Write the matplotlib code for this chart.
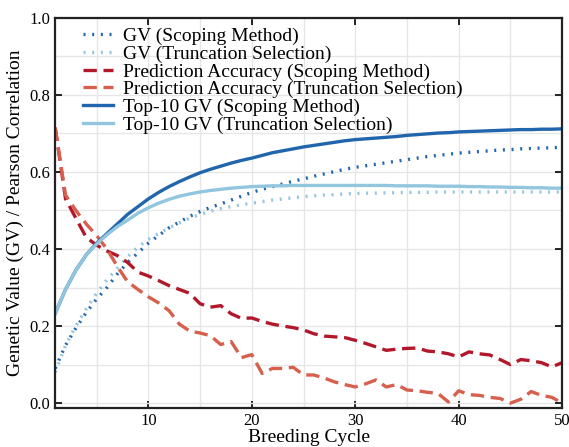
import matplotlib
matplotlib.use("Agg")
import matplotlib.pyplot as plt
from matplotlib.ticker import MultipleLocator

plt.rcParams['font.family'] = ['Liberation Serif', 'DejaVu Serif']

cycles = list(range(1, 51))

gv_scoping = [0.09, 0.15, 0.195, 0.235, 0.27, 0.30, 0.335, 0.365, 0.39, 0.415,
              0.435, 0.455, 0.47, 0.485, 0.497, 0.508, 0.517, 0.527, 0.537, 0.547,
              0.555, 0.562, 0.569, 0.576, 0.582, 0.589, 0.595, 0.601, 0.607, 0.612,
              0.616, 0.620, 0.624, 0.628, 0.632, 0.636, 0.640, 0.643, 0.646, 0.649,
              0.651, 0.653, 0.655, 0.657, 0.658, 0.660, 0.661, 0.662, 0.663, 0.664]

gv_trunc = [0.08, 0.15, 0.20, 0.245, 0.285, 0.32, 0.35, 0.38, 0.405, 0.425,
            0.44, 0.455, 0.468, 0.48, 0.49, 0.498, 0.505, 0.51, 0.515, 0.519,
            0.523, 0.527, 0.530, 0.533, 0.536, 0.538, 0.540, 0.541, 0.543, 0.544,
            0.545, 0.545, 0.546, 0.546, 0.547, 0.547, 0.547, 0.548, 0.548, 0.548,
            0.548, 0.548, 0.548, 0.548, 0.548, 0.548, 0.548, 0.548, 0.548, 0.548]

acc_scoping = [0.715, 0.53, 0.48, 0.43, 0.41, 0.395, 0.383, 0.365, 0.34, 0.33,
               0.318, 0.305, 0.295, 0.285, 0.258, 0.249, 0.253, 0.232, 0.22, 0.221,
               0.212, 0.205, 0.20, 0.196, 0.19, 0.18, 0.174, 0.172, 0.17, 0.163,
               0.155, 0.146, 0.137, 0.14, 0.142, 0.143, 0.135, 0.133, 0.128, 0.12,
               0.133, 0.128, 0.125, 0.113, 0.10, 0.113, 0.11, 0.105, 0.094, 0.105]

acc_trunc = [0.715, 0.54, 0.50, 0.465, 0.435, 0.40, 0.355, 0.315, 0.295, 0.276,
             0.26, 0.24, 0.205, 0.187, 0.182, 0.175, 0.152, 0.16, 0.118, 0.126,
             0.077, 0.09, 0.09, 0.093, 0.073, 0.073, 0.065, 0.055, 0.048, 0.042,
             0.05, 0.06, 0.042, 0.048, 0.034, 0.032, 0.028, 0.025, 0.003, 0.032,
             0.022, 0.02, 0.015, 0.012, 0.0, 0.01, 0.03, 0.02, 0.015, 0.0]

top10_scoping = [0.233, 0.295, 0.345, 0.385, 0.415, 0.44, 0.465, 0.49, 0.51, 0.53,
                 0.547, 0.562, 0.575, 0.587, 0.598, 0.607, 0.615, 0.623, 0.63, 0.636,
                 0.643, 0.65, 0.655, 0.660, 0.665, 0.669, 0.673, 0.677, 0.681, 0.684,
                 0.686, 0.688, 0.690, 0.692, 0.695, 0.697, 0.699, 0.701, 0.702, 0.704,
                 0.705, 0.706, 0.707, 0.708, 0.709, 0.710, 0.710, 0.711, 0.711, 0.712]

top10_trunc = [0.233, 0.295, 0.345, 0.385, 0.413, 0.437, 0.458, 0.475, 0.493, 0.507,
               0.519, 0.529, 0.537, 0.543, 0.548, 0.552, 0.555, 0.558, 0.56, 0.562,
               0.563, 0.564, 0.564, 0.565, 0.565, 0.565, 0.565, 0.565, 0.565, 0.565,
               0.565, 0.565, 0.565, 0.564, 0.564, 0.564, 0.564, 0.563, 0.563, 0.563,
               0.562, 0.562, 0.561, 0.561, 0.560, 0.560, 0.559, 0.559, 0.558, 0.558]

dark_blue = '#2166ac'
light_blue = '#92c5de'
dark_red = '#b2182b'
light_red = '#d6604d'

fig = plt.figure(figsize=(5.69, 4.47), dpi=100)
ax = fig.add_axes([0.097, 0.087, 0.891, 0.873])

dots = (0, (0.6, 2))
dashes = (0, (4, 2))
ax.plot(cycles, gv_scoping, linestyle=dots, linewidth=2.4, color=dark_blue, label="GV (Scoping Method)")
ax.plot(cycles, gv_trunc, linestyle=dots, linewidth=2.4, color=light_blue, label="GV (Truncation Selection)")
ax.plot(cycles, acc_scoping, linestyle=dashes, linewidth=2.4, color=dark_red, label="Prediction Accuracy (Scoping Method)")
ax.plot(cycles, acc_trunc, linestyle=dashes, linewidth=2.4, color=light_red, label="Prediction Accuracy (Truncation Selection)")
ax.plot(cycles, top10_scoping, linewidth=2.4, color=dark_blue, label="Top-10 GV (Scoping Method)")
ax.plot(cycles, top10_trunc, linewidth=2.4, color=light_blue, label="Top-10 GV (Truncation Selection)")

ax.set_xlim(1, 50)
ax.set_ylim(-0.013, 1.0)
ax.xaxis.set_major_locator(MultipleLocator(10))
ax.xaxis.set_minor_locator(MultipleLocator(5))
ax.yaxis.set_major_locator(MultipleLocator(0.2))
ax.yaxis.set_minor_locator(MultipleLocator(0.1))
ax.grid(True, which='both', color='#e6e6e6', linewidth=1.0)
ax.set_axisbelow(True)
ax.tick_params(which='major', direction='in', length=5, width=1.2, top=True, right=True, labelsize=12)
ax.tick_params(which='minor', length=0)
for s in ax.spines.values():
    s.set_linewidth(1.6)
    s.set_color('#222222')

ax.set_xlabel("Breeding Cycle", fontsize=14, labelpad=0)
ax.set_ylabel("Genetic Value (GV) / Pearson Correlation", fontsize=14, labelpad=4)

ax.legend(loc='upper left', bbox_to_anchor=(0.04, 0.995), frameon=False, fontsize=14,
          handlelength=1.55, labelspacing=0.0, handletextpad=0.5, borderaxespad=0)

fig.savefig("out.png", dpi=100)
